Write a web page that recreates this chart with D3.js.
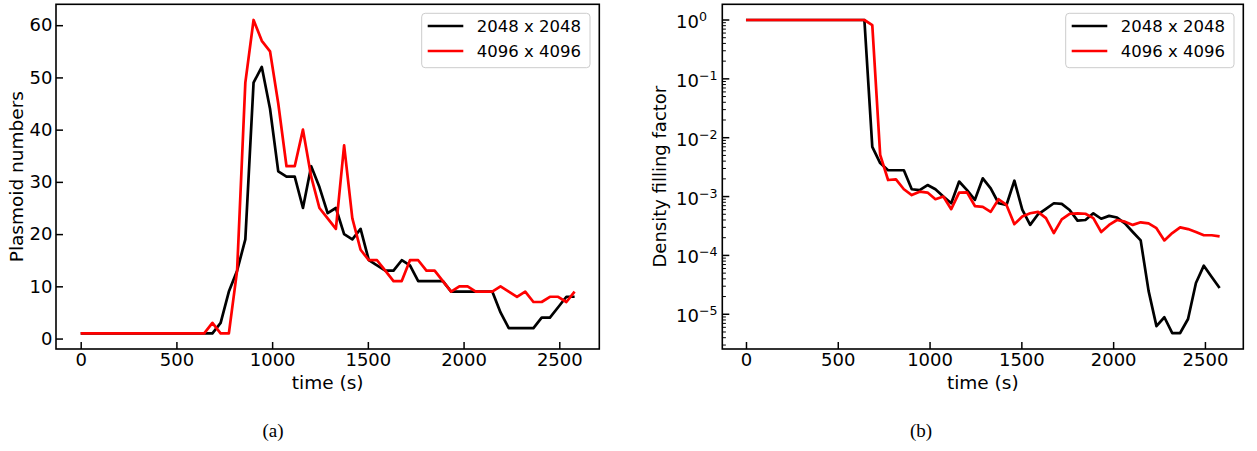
<!DOCTYPE html>
<html><head><meta charset="utf-8">
<script src="https://cdn.jsdelivr.net/npm/d3@7"></script>
<style>body{margin:0;background:#fff}svg{display:block}</style>
</head><body><svg id="c" width="1257" height="451"></svg>
<script>
const time = [0,43,86,129,172,215,258,301,344,387,430,473,516,559,602,645,688,731,774,817,860,903,946,989,1032,1075,1118,1161,1204,1247,1290,1333,1376,1419,1462,1505,1548,1591,1634,1677,1720,1763,1806,1849,1892,1935,1978,2021,2064,2107,2150,2193,2236,2279,2322,2365,2408,2451,2494,2537,2580];
const seriesNames = ["2048 x 2048", "4096 x 4096"];
const plasmoid2048 = [1,1,1,1,1,1,1,1,1,1,1,1,1,1,1,1,1,3,9,13,19,49,52,44,32,31,31,25,33,29,24,25,20,19,21,15,14,13,13,15,14,11,11,11,11,9,9,9,9,9,9,5,2,2,2,2,4,4,6,8,8];
const plasmoid4096 = [1,1,1,1,1,1,1,1,1,1,1,1,1,1,1,1,3,1,1,13,49,61,57,55,45,33,33,40,31,25,23,21,37,23,17,15,15,13,11,11,15,15,13,13,11,9,10,10,9,9,9,10,9,8,9,7,7,8,8,7,9];
const filling2048 = [1,1,1,1,1,1,1,1,1,1,1,1,1,1,1,1,7e-3,3.7e-3,2.8e-3,2.8e-3,2.8e-3,1.33e-3,1.29e-3,1.57e-3,1.33e-3,1.0e-3,7.7e-4,1.8e-3,1.29e-3,8.8e-4,2.04e-3,1.38e-3,7.7e-4,7.2e-4,1.86e-3,6.0e-4,3.3e-4,5.0e-4,6.2e-4,7.7e-4,7.5e-4,5.9e-4,3.9e-4,4.0e-4,5.2e-4,4.2e-4,4.7e-4,4.4e-4,3.5e-4,2.5e-4,1.8e-4,2.5e-5,6.3e-6,8.9e-6,4.8e-6,4.8e-6,8.3e-6,3.4e-5,6.7e-5,4.3e-5,2.8e-5];
const filling4096 = [1,1,1,1,1,1,1,1,1,1,1,1,1,1,1,1,0.82,5.1e-3,1.91e-3,1.96e-3,1.33e-3,1.06e-3,1.21e-3,1.17e-3,9.0e-4,1.0e-3,6.1e-4,1.17e-3,1.18e-3,6.9e-4,6.7e-4,5.5e-4,9.0e-4,7.2e-4,3.4e-4,4.6e-4,5.2e-4,5.5e-4,4.3e-4,2.4e-4,4.1e-4,5.1e-4,5.2e-4,5.1e-4,4.3e-4,2.5e-4,3.3e-4,4.0e-4,3.75e-4,3.3e-4,3.65e-4,3.5e-4,2.9e-4,1.8e-4,2.4e-4,3.0e-4,2.8e-4,2.5e-4,2.2e-4,2.2e-4,2.1e-4];
const xTicks = [0,500,1000,1500,2000,2500];
const yTicksLeft = [0,10,20,30,40,50,60];
const yTicksRight = [1,1e-1,1e-2,1e-3,1e-4,1e-5];
const yExponents = ["0","\u22121","\u22122","\u22123","\u22124","\u22125"];
const colors = ["#000000", "#ff0000"];

const svg = d3.select("#c");
const FONT = "DejaVu Sans, sans-serif";
const axTop = 4.3, axBottom = 349;

function frameAndX(g, x, left, right) {
  const ax = g.append("g").attr("transform", `translate(0,${axBottom})`)
    .call(d3.axisBottom(x).tickValues(xTicks).tickFormat(d3.format("d"))
      .tickSizeInner(-7).tickSizeOuter(0).tickPadding(4.5));
  ax.select(".domain").remove();
  ax.selectAll("line").attr("stroke", "#000").attr("stroke-width", 1.5);
  ax.selectAll("text").attr("font-family", FONT).attr("font-size", 18).attr("fill", "#000");
  g.append("text").attr("x", (left + right) / 2).attr("y", 389)
    .attr("text-anchor", "middle").attr("font-family", FONT).attr("font-size", 18.5).text("time (s)");
}
function frameRect(g, left, right) {
  g.append("rect").attr("x", left).attr("y", axTop).attr("width", right - left).attr("height", axBottom - axTop)
    .attr("fill", "none").attr("stroke", "#000").attr("stroke-width", 1.6);
}
function legend(g, right) {
  const w = 168.3, h = 54.4, lx = right - 9.3 - w, ly = axTop + 9;
  g.append("rect").attr("x", lx).attr("y", ly).attr("width", w).attr("height", h).attr("rx", 3.5)
    .attr("fill", "#fff").attr("fill-opacity", 0.8).attr("stroke", "#cccccc").attr("stroke-width", 1);
  seriesNames.forEach((n, i) => {
    const yy = ly + 12.7 + i * 25;
    g.append("line").attr("x1", lx + 6).attr("x2", lx + 41.6).attr("y1", yy).attr("y2", yy)
      .attr("stroke", colors[i]).attr("stroke-width", 2.7);
    g.append("text").attr("x", lx + 55).attr("y", yy).attr("dy", "0.36em")
      .attr("font-family", FONT).attr("font-size", 16.5).text(n);
  });
}

// ---------- Panel (a) ----------
{
  const L = 56, R = 599.3;
  const g = svg.append("g");
  const x = d3.scaleLinear().domain([-129, 2709]).range([L, R]);
  const y = d3.scaleLinear().domain([-2, 64]).range([axBottom, axTop]);
  frameAndX(g, x, L, R);
  const ay = g.append("g").attr("transform", `translate(${L},0)`)
    .call(d3.axisLeft(y).tickValues(yTicksLeft).tickSizeInner(-7).tickSizeOuter(0).tickPadding(3.5));
  ay.select(".domain").remove();
  ay.selectAll("line").attr("stroke", "#000").attr("stroke-width", 1.5);
  ay.selectAll("text").attr("font-family", FONT).attr("font-size", 18).attr("fill", "#000");
  const line = d3.line().x((d, i) => x(time[i])).y(d => y(d));
  [plasmoid2048, plasmoid4096].forEach((s, k) => {
    g.append("path").attr("d", line(s)).attr("fill", "none").attr("stroke", colors[k])
      .attr("stroke-width", 2.7).attr("stroke-linejoin", "round");
  });
  frameRect(g, L, R);
  legend(g, R);
  g.append("text").attr("transform", `translate(22.5,${(axTop + axBottom) / 2}) rotate(-90)`)
    .attr("text-anchor", "middle").attr("font-family", FONT).attr("font-size", 18.5).text("Plasmoid numbers");
  g.append("text").attr("x", 273).attr("y", 437).attr("text-anchor", "middle")
    .attr("font-family", "Liberation Serif, serif").attr("font-size", 19).text("(a)");
}

// ---------- Panel (b) ----------
{
  const L = 722.3, R = 1243.3;
  const g = svg.append("g");
  const x = d3.scaleLinear().domain([-129, 2709]).range([L, R]);
  const y = d3.scaleLog().domain([Math.pow(10, -5.59), Math.pow(10, 0.2667)]).range([axBottom, axTop]);
  frameAndX(g, x, L, R);
  const minors = [];
  for (let e = -6; e <= 0; e++) for (let m = 2; m <= 9; m++) {
    const v = m * Math.pow(10, e);
    if (v > y.domain()[0] && v < y.domain()[1]) minors.push(v);
  }
  g.selectAll(".minor").data(minors).join("line").attr("class", "minor")
    .attr("x1", L).attr("x2", L + 3.6).attr("y1", d => y(d)).attr("y2", d => y(d))
    .attr("stroke", "#000").attr("stroke-width", 1);
  g.selectAll(".major").data(yTicksRight).join("line").attr("class", "major")
    .attr("x1", L).attr("x2", L + 7).attr("y1", d => y(d)).attr("y2", d => y(d))
    .attr("stroke", "#000").attr("stroke-width", 1.5);
  const lab = g.selectAll(".ylab").data(yTicksRight).join("text").attr("class", "ylab")
    .attr("x", 676).attr("y", d => y(d) + 8).attr("font-family", FONT).attr("font-size", 18);
  lab.append("tspan").text("10");
  lab.append("tspan").attr("font-size", 12.6).attr("dy", -7).text((d, i) => yExponents[i]);
  const line = d3.line().x((d, i) => x(time[i])).y(d => y(d));
  [filling2048, filling4096].forEach((s, k) => {
    g.append("path").attr("d", line(s)).attr("fill", "none").attr("stroke", colors[k])
      .attr("stroke-width", 2.7).attr("stroke-linejoin", "round");
  });
  frameRect(g, L, R);
  legend(g, R);
  g.append("text").attr("transform", `translate(666,${(axTop + axBottom) / 2}) rotate(-90)`)
    .attr("text-anchor", "middle").attr("font-family", FONT).attr("font-size", 18).text("Density filling factor");
  g.append("text").attr("x", 921).attr("y", 437).attr("text-anchor", "middle")
    .attr("font-family", "Liberation Serif, serif").attr("font-size", 19).text("(b)");
}
</script></body></html>
